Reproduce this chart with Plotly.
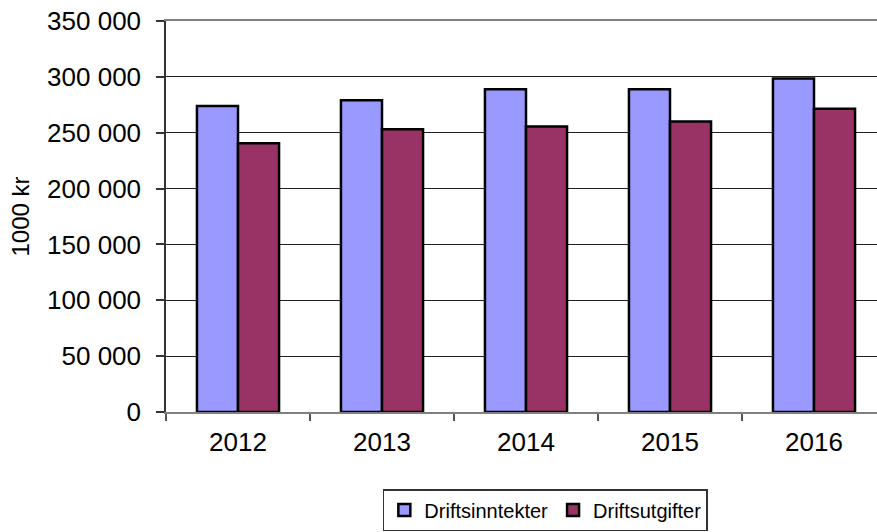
import plotly.graph_objects as go

years = ["2012", "2013", "2014", "2015", "2016"]
driftsinntekter = [274000, 279000, 289000, 289000, 298500]
driftsutgifter = [240500, 253000, 255500, 260000, 271500]
y_ticks = [0, 50000, 100000, 150000, 200000, 250000, 300000, 350000]
y_tick_text = ["0", "50 000", "100 000", "150 000", "200 000", "250 000", "300 000", "350 000"]

FONT = "Liberation Sans, Arial, sans-serif"

fig = go.Figure()
fig.add_trace(go.Bar(name="Driftsinntekter", x=years, y=driftsinntekter,
                     marker=dict(color="#9999FF", line=dict(color="black", width=2.5))))
fig.add_trace(go.Bar(name="Driftsutgifter", x=years, y=driftsutgifter,
                     marker=dict(color="#993366", line=dict(color="black", width=2.5))))

fig.update_layout(
    width=877, height=532,
    margin=dict(l=166, r=0, t=21, b=120, autoexpand=False),
    paper_bgcolor="white", plot_bgcolor="white",
    barmode="group", bargap=0.43, bargroupgap=0,
    font=dict(family=FONT, color="black"),
    legend=dict(orientation="h", x=0.305, xanchor="left", y=-0.197, yanchor="top",
                bordercolor="#333333", borderwidth=1.5,
                font=dict(size=20, family=FONT, color="black"),
                itemwidth=30, tracegroupgap=0),
    showlegend=True,
)
fig.update_xaxes(
    type="category", range=[-0.5, 4.4375], automargin=False,
    showline=True, linecolor="#808080", linewidth=2, mirror=True,
    ticks="outside", tickson="boundaries", ticklen=7, tickcolor="#555555", tickwidth=1.5,
    tickfont=dict(size=26, family=FONT, color="black"),
    showgrid=False, ticklabelstandoff=6,
)
fig.update_yaxes(
    range=[0, 350000], tickvals=y_ticks, ticktext=y_tick_text, automargin=False,
    showline=True, linecolor="#333333", linewidth=1.5,
    ticks="outside", ticklen=8, tickcolor="#333333", tickwidth=1.5,
    tickfont=dict(size=26, family=FONT, color="black"),
    showgrid=True, gridcolor="#222222", gridwidth=1,
    zeroline=False,
    title=dict(text="1000 kr", font=dict(size=24, family=FONT, color="black"), standoff=11),
    ticklabelstandoff=10,
)

fig.write_html("out.html", config={"displayModeBar": False},
               post_script="document.body.style.margin='0';")
